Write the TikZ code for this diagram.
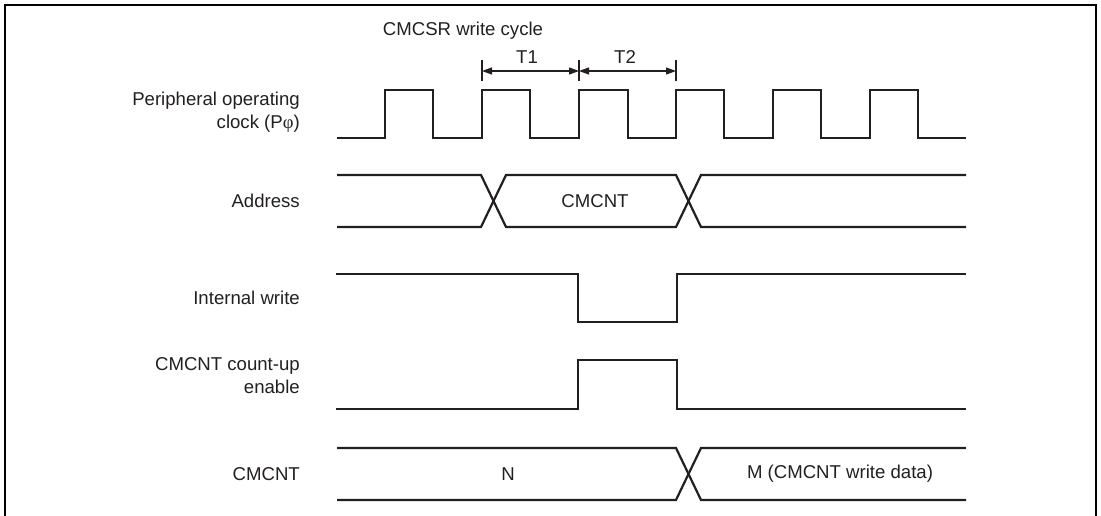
\documentclass[tikz,border=0pt]{standalone}
\usepackage{fontspec}
\setmainfont{Liberation Sans}
\newfontfamily\phifont{Liberation Serif}
\usetikzlibrary{arrows.meta}
\definecolor{ink}{HTML}{231F20}
\begin{document}
\begin{tikzpicture}[x=1pt,y=-1pt,
  sig/.style={draw=ink,line width=2.2pt,line join=miter},
  frame/.style={draw=black,line width=2.6pt},
  lbl/.style={text=ink,font=\fontsize{18.6}{23}\selectfont,inner sep=0pt},
  sidelbl/.style={lbl,anchor=east,align=right},
  dim/.style={draw=ink,line width=1.2pt,{Triangle[length=10pt,width=7pt]}-{Triangle[length=10pt,width=7pt]}},
  tick/.style={draw=ink,line width=1.2pt}]
\useasboundingbox (0,0) rectangle (1101,515);
% frame (bottom is cut off)
\draw[frame] (5,520) -- (5,5) -- (1096,5) -- (1096,520);

% labels
\node[lbl] (title) at (463,31) {CMCSR write cycle};
\node[sidelbl] (lclk) at (300,112.5) {Peripheral operating\\clock (P{\phifont φ})};
\node[sidelbl] (ladr) at (300,201) {Address};
\node[sidelbl] (lwr) at (300,298) {Internal write};
\node[sidelbl] (len) at (300,376) {CMCNT count-up\\enable};
\node[sidelbl] (lcnt) at (300,474) {CMCNT};

% T1 / T2 dimension
\coordinate (ta) at (482,71);
\coordinate (tb) at (579,71);
\coordinate (tc) at (676,71);
\draw[tick] (482,60) -- (482,81);
\draw[tick] (579,60) -- (579,81);
\draw[tick] (676,60) -- (676,81);
\draw[dim] (ta) -- (tb);
\draw[dim] (tb) -- (tc);
\node[lbl] (t1) at (527,57) {T1};
\node[lbl] (t2) at (625,57) {T2};

% clock
\draw[sig] (337,138) -- (385,138) -- (385,90) -- (433,90) -- (433,138)
  -- (482,138) -- (482,90) -- (530,90) -- (530,138)
  -- (579,138) -- (579,90) -- (628,90) -- (628,138)
  -- (676,138) -- (676,90) -- (724,90) -- (724,138)
  -- (773,138) -- (773,90) -- (821,90) -- (821,138)
  -- (870,138) -- (870,90) -- (918,90) -- (918,138) -- (966,138);

% address bus
\draw[sig] (337,175) -- (481,175) -- (506,227) -- (676,227) -- (701,175) -- (966,175);
\draw[sig] (337,227) -- (481,227) -- (506,175) -- (676,175) -- (701,227) -- (966,227);
\node[lbl] (adr) at (595,201) {CMCNT};

% internal write
\draw[sig] (336,274) -- (578,274) -- (578,322) -- (677,322) -- (677,274) -- (966,274);

% count-up enable
\draw[sig] (336,409) -- (578,409) -- (578,360) -- (677,360) -- (677,409) -- (966,409);

% CMCNT bus
\draw[sig] (337,448) -- (676,448) -- (701,500) -- (966,500);
\draw[sig] (337,500) -- (676,500) -- (701,448) -- (966,448);
\node[lbl] (vn) at (508,474) {N};
\node[lbl] (vm) at (840,474) {M (CMCNT write data)};
\end{tikzpicture}
\end{document}
